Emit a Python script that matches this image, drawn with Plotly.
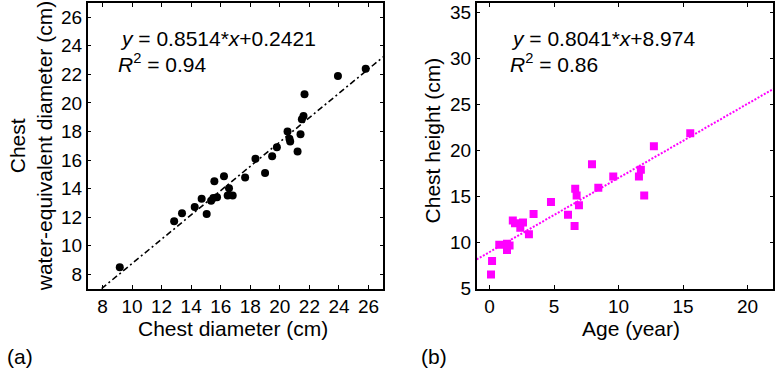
import plotly.graph_objects as go

# Panel (a): chest diameter vs water-equivalent diameter
diam_x = [9.17, 12.85, 13.38, 14.24, 14.71, 15.05, 15.35, 15.5, 15.75, 15.57,
          16.22, 16.56, 16.47, 16.81, 17.65, 18.35, 19.0, 19.48, 19.8, 20.52,
          20.65, 20.7, 21.2, 21.4, 21.49, 21.6, 21.67, 23.93, 25.81]
diam_y = [8.5, 11.72, 12.28, 12.71, 13.3, 12.22, 13.15, 13.35, 13.4, 14.51,
          14.87, 14.02, 13.52, 13.52, 14.78, 16.09, 15.1, 16.27, 16.9, 18.0,
          17.5, 17.3, 16.6, 17.8, 18.86, 19.09, 20.6, 21.88, 22.4]
fit_a = (0.8514, 0.2421)
fit_a_x = [(7 - fit_a[1]) / fit_a[0], 27]

# Panel (b): age vs chest height
age_x = [0.11, 0.19, 0.75, 1.35, 1.55, 1.35, 1.8, 1.97, 2.59, 2.38, 3.05, 3.41,
         4.76, 6.08, 6.59, 6.64, 6.75, 6.93, 8.43, 7.94, 9.59, 11.58, 11.73,
         11.99, 12.74, 15.56]
height_y = [6.53, 7.99, 9.75, 9.87, 9.67, 9.2, 12.39, 12.1, 12.18, 11.6, 10.89,
            13.09, 14.4, 13.01, 11.8, 15.85, 15.1, 14.06, 15.94, 18.49, 17.17,
            17.17, 17.9, 15.12, 20.44, 21.87]
fit_b = (0.8041, 8.974)
fit_b_x = [-1, 22]

W, H = 775, 381
FONT = "Liberation Sans, Arial, Helvetica, sans-serif"

def px(x):
    return x / W

def py(y):
    return 1 - y / H

fig = go.Figure()
fig.add_trace(go.Scatter(x=diam_x, y=diam_y, mode="markers",
                         marker=dict(color="black", size=8, symbol="circle"),
                         xaxis="x", yaxis="y", showlegend=False))
fig.add_trace(go.Scatter(x=fit_a_x, y=[fit_a[0] * v + fit_a[1] for v in fit_a_x],
                         mode="lines", line=dict(color="black", width=1.6, dash="6px,3px,2px,3px"),
                         xaxis="x", yaxis="y", showlegend=False))
fig.add_trace(go.Scatter(x=age_x, y=height_y, mode="markers",
                         marker=dict(color="#FF00FF", size=8, symbol="square"),
                         xaxis="x2", yaxis="y2", showlegend=False))
fig.add_trace(go.Scatter(x=fit_b_x, y=[fit_b[0] * v + fit_b[1] for v in fit_b_x],
                         mode="lines", line=dict(color="#FF00FF", width=2, dash="2px,1.6px"),
                         xaxis="x2", yaxis="y2", showlegend=False))

axis_common = dict(showgrid=False, zeroline=False, showline=True, linecolor="black",
                   linewidth=1.5, mirror="ticks", ticks="inside", ticklen=4,
                   tickwidth=1.3, tickcolor="black",
                   tickfont=dict(family=FONT, size=19, color="black"))

ydom = [py(297), py(2)]
fig.update_layout(
    width=W, height=H, autosize=False, margin=dict(l=0, r=0, t=0, b=0),
    paper_bgcolor="white", plot_bgcolor="white",
    xaxis=dict(domain=[px(87.7), px(383.3)], range=[7, 27], tickvals=list(range(8, 27, 2)),
               anchor="y", **axis_common),
    yaxis=dict(domain=ydom, range=[7, 27], tickvals=list(range(8, 27, 2)),
               anchor="x", **axis_common),
    xaxis2=dict(domain=[px(476.7), px(773.3)], range=[-1, 22], tickvals=[0, 5, 10, 15, 20],
                anchor="y2", **axis_common),
    yaxis2=dict(domain=ydom, range=[5, 36], tickvals=[5, 10, 15, 20, 25, 30, 35],
                anchor="x2", **axis_common),
)

tf = dict(family=FONT, size=21, color="black")
ann = [
    dict(text="Chest diameter (cm)", x=px(233), y=py(338), xanchor="center", yanchor="middle"),
    dict(text="Age (year)", x=px(631), y=py(338), xanchor="center", yanchor="middle"),
    dict(text="Chest", x=px(17), y=py(150), textangle=-90, xanchor="center", yanchor="middle"),
    dict(text="water-equivalent diameter (cm)", x=px(44), y=py(150), textangle=-90,
         xanchor="center", yanchor="middle"),
    dict(text="Chest height (cm)", x=px(432), y=py(144), textangle=-90,
         xanchor="center", yanchor="middle"),
    dict(text="<i>y</i> = 0.8514*<i>x</i>+0.2421", x=px(118), y=py(39), xanchor="left", yanchor="middle"),
    dict(text="<i>R</i><sup>2</sup> = 0.94", x=px(116), y=py(64), xanchor="left", yanchor="middle"),
    dict(text="<i>y</i> = 0.8041*<i>x</i>+8.974", x=px(509), y=py(39), xanchor="left", yanchor="middle"),
    dict(text="<i>R</i><sup>2</sup> = 0.86", x=px(508), y=py(64), xanchor="left", yanchor="middle"),
    dict(text="(a)", x=px(5), y=py(367), xanchor="left", yanchor="middle"),
    dict(text="(b)", x=px(419), y=py(367), xanchor="left", yanchor="middle"),
]
for a in ann:
    fig.add_annotation(xref="paper", yref="paper", showarrow=False, font=tf, **a)

fig.write_html("out.html",
               config={"displayModeBar": False, "responsive": False},
               post_script="document.body.style.margin='0';document.body.style.overflow='hidden';")
